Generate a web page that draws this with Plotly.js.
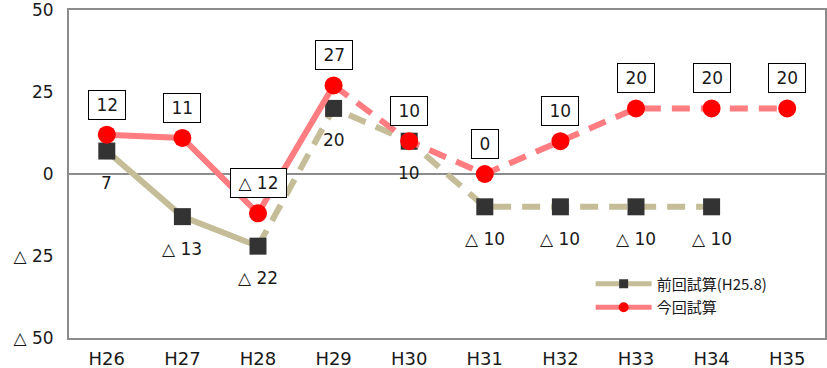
<!DOCTYPE html>
<html><head><meta charset="utf-8">
<script src="https://cdn.plot.ly/plotly-3.0.1.min.js"></script>
<style>html,body{margin:0;padding:0;background:#fff}#chart{width:827px;height:368px}</style>
</head><body><div id="chart"></div>
<script>
const categories = ['H26','H27','H28','H29','H30','H31','H32','H33','H34','H35'];
const prevName = '前回試算(H25.8)';
const currName = '今回試算';
const prevValues = [7, -13, -22, 20, 10, -10, -10, -10, -10, null];
const currValues = [12, 11, -12, 27, 10, 0, 10, 20, 20, 20];
const yTickValues = [-50, -25, 0, 25, 50];
// index of last point drawn with a solid line (rest dashed)
const prevSolidEnd = 2;
const currSolidEnd = 3;

const fmt = v => v < 0 ? '△ ' + (-v) : String(v);
const NUMFONT = '"DejaVu Sans", sans-serif';
const JPFONT = '"Noto Sans CJK JP", "Noto Sans", sans-serif';
const TAN = '#C4BD97', PINK = '#FF7C80', RED = '#FF0000', DARK = '#333333';
const DASH = '18px,11px';
const TXT = '#1a1a1a';

function valid(vals) {
  const xs = [], ys = [];
  vals.forEach((v, i) => { if (v !== null) { xs.push(categories[i]); ys.push(v); } });
  return {xs, ys};
}
const prevAll = valid(prevValues);
const currAll = valid(currValues);

const traces = [
  {x: categories.slice(0, prevSolidEnd + 1), y: prevValues.slice(0, prevSolidEnd + 1), mode: 'lines',
   line: {color: TAN, width: 6}, showlegend: false, hoverinfo: 'skip'},
  {x: prevAll.xs.slice(prevSolidEnd), y: prevAll.ys.slice(prevSolidEnd), mode: 'lines',
   line: {color: TAN, width: 6, dash: DASH}, showlegend: false, hoverinfo: 'skip'},
  {x: prevAll.xs, y: prevAll.ys, mode: 'markers',
   marker: {symbol: 'square', color: DARK, size: 17}, showlegend: false},
  {x: categories.slice(0, currSolidEnd + 1), y: currValues.slice(0, currSolidEnd + 1), mode: 'lines',
   line: {color: PINK, width: 6}, showlegend: false, hoverinfo: 'skip'},
  {x: currAll.xs.slice(currSolidEnd), y: currAll.ys.slice(currSolidEnd), mode: 'lines',
   line: {color: PINK, width: 6, dash: DASH}, showlegend: false, hoverinfo: 'skip'},
  {x: currAll.xs, y: currAll.ys, mode: 'markers',
   marker: {symbol: 'circle', color: RED, size: 18}, showlegend: false},
  {x: [categories[0]], y: [null], mode: 'lines+markers', name: prevName, legendgroup: 'a',
   line: {color: TAN, width: 5}, marker: {symbol: 'square', color: DARK, size: 9}},
  {x: [categories[0]], y: [null], mode: 'lines+markers', name: currName, legendgroup: 'b',
   line: {color: PINK, width: 5}, marker: {symbol: 'circle', color: RED, size: 10}}
];

const annotations = [];
currAll.xs.forEach((x, i) => {
  annotations.push({x: x, y: currAll.ys[i], text: '\u2009' + fmt(currAll.ys[i]) + '\u2009', showarrow: false,
    yshift: 30, font: {family: NUMFONT, size: 17, color: TXT}, bordercolor: '#000', borderwidth: 1,
    borderpad: 4, bgcolor: '#fff'});
});
prevAll.xs.forEach((x, i) => {
  annotations.push({x: x, y: prevAll.ys[i], text: fmt(prevAll.ys[i]), showarrow: false,
    yshift: -32, font: {family: NUMFONT, size: 17, color: TXT}});
});

const layout = {
  width: 827, height: 368,
  margin: {l: 69, r: 2, t: 10, b: 30},
  paper_bgcolor: '#fff', plot_bgcolor: '#fff',
  font: {family: NUMFONT, color: TXT},
  showlegend: true,
  legend: {x: 0.69, xanchor: 'left', y: 0.215, yanchor: 'top', bgcolor: 'rgba(0,0,0,0)',
    font: {family: JPFONT, size: 15, color: TXT}, itemwidth: 56, traceorder: 'grouped', tracegroupgap: 1},
  xaxis: {type: 'category', categoryarray: categories, range: [-0.5, categories.length - 0.5],
    showline: true, mirror: true, linecolor: '#8c8c8c', linewidth: 2, showgrid: false, ticks: '',
    tickfont: {family: NUMFONT, size: 18, color: TXT}, fixedrange: true, ticklabelstandoff: 3,
    ticklabeloverflow: 'allow'},
  yaxis: {range: [-50, 50], tickvals: yTickValues, ticktext: yTickValues.map(fmt),
    showline: true, mirror: true, linecolor: '#8c8c8c', linewidth: 2, showgrid: false, ticks: '',
    zeroline: true, zerolinecolor: '#8c8c8c', zerolinewidth: 1.5,
    tickfont: {family: NUMFONT, size: 17, color: TXT}, fixedrange: true, ticklabelstandoff: 10,
    ticklabeloverflow: 'allow'},
  annotations: annotations
};

Plotly.newPlot('chart', traces, layout, {displayModeBar: false, staticPlot: true});
</script>
</body></html>
